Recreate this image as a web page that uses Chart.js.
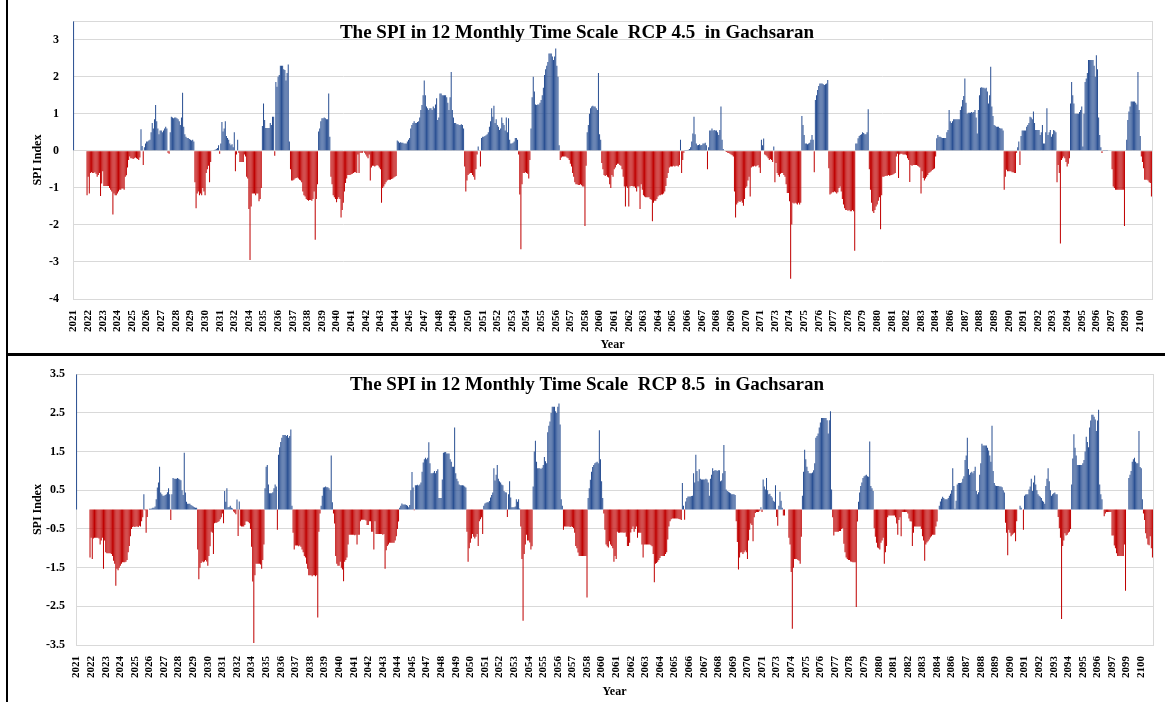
<!DOCTYPE html>
<html lang="en">

<head>
    <meta charset="UTF-8">
    <title>SPI 12 monthly - Gachsaran</title>
    <script src="https://cdn.jsdelivr.net/npm/chart.js"></script>
    <style>
        body { margin: 0; background: #fff; }
        #page { position: relative; width: 1165px; height: 702px; overflow: hidden; }
        .panel { position: absolute; left: 0; width: 1165px; }
        #top { top: 0; height: 353px; }
        #bottom { top: 356px; height: 346px; }
        .line { position: absolute; background: #000; }
    </style>
</head>

<body>
    <div id="page">
        <div class="panel" id="top"><canvas id="chart45"></canvas></div>
        <div class="panel" id="bottom"><canvas id="chart85"></canvas></div>
        <div class="line" style="left:6px;top:353px;width:1159px;height:3px"></div>
        <div class="line" style="left:6px;top:0;width:2px;height:702px"></div>
    </div>
    <script>
        // years on the axis, one row of 12 monthly SPI values per year
        const years = [];
        for (let y = 2021; y <= 2100; y++) years.push(y);

        const yTicks45 = [3, 2, 1, 0, -1, -2, -3, -4];
        const yTicks85 = [3.5, 2.5, 1.5, 0.5, -0.5, -1.5, -2.5, -3.5];

        const n = null;
        const rcp45 = [
            [3.5, n, n, n, n, n, n, n, n, n, n, n],
            [-1.2, -0.7, -1.15, -0.6, -0.58, -0.6, -0.6, -0.58, -0.62, -0.7, -0.65, -0.6],
            [-1.22, -0.88, -0.55, -0.95, -0.95, -0.95, -0.95, -0.95, -1.0, -1.05, -1.1, -1.72],
            [-1.15, -1.2, -1.2, -1.15, -1.1, -1.05, -1.05, -1.02, -1.02, -1.05, -0.7, -0.66],
            [-0.45, -0.25, -0.15, -0.2, -0.2, -0.22, -0.2, -0.18, -0.2, -0.22, -0.25, -0.18],
            [0.58, 0.13, -0.38, 0.1, 0.2, 0.25, 0.25, 0.28, 0.3, 0.5, 0.75, 0.6],
            [0.85, 1.24, 0.8, 0.6, 0.45, 0.55, 0.55, 0.5, 0.55, 0.6, 0.65, 0.6],
            [-0.05, -0.08, 0.5, 0.92, 0.9, 0.88, 0.9, 0.9, 0.88, 0.85, 0.8, 0.7],
            [0.9, 1.57, 0.65, 0.45, 0.38, 0.35, 0.35, 0.32, 0.3, 0.28, 0.3, 0.25],
            [-0.85, -1.55, -1.15, -1.1, -1.2, -1.15, -1.2, -1.0, -1.1, -1.2, -0.6, -0.5],
            [-0.4, -0.85, -0.3, 0, 0, 0.02, 0.03, 0.05, 0.08, 0.15, -0.08, 0.2],
            [0.78, 0.52, 0.6, 0.8, 0.4, 0.35, 0.3, 0.2, 0.15, 0.18, 0.1, 0.5],
            [-0.55, -0.1, 0.3, -0.05, -0.3, -0.3, -0.3, -0.3, -0.1, -0.15, -0.7, -0.75],
            [-1.57, -2.95, -1.5, -1.15, -1.15, -1.15, -1.2, -1.15, -1.15, -1.36, -1.3, -1.0],
            [0.67, 1.28, 0.83, 0.62, 0.62, 0.62, 0.62, 0.75, 0.7, 0.92, 0.92, -0.13],
            [1.86, 1.73, 2.0, 2.05, 2.3, 2.3, 2.3, 2.2, 2.18, 1.9, 2.1, 2.33],
            [0.25, -0.5, -0.8, -0.8, -0.78, -0.75, -0.73, -0.72, -0.75, -0.78, -0.8, -0.85],
            [-1.1, -1.2, -1.23, -1.3, -1.33, -1.35, -1.33, -1.33, -1.35, -1.3, -1.1, -2.4],
            [-1.3, -0.9, 0.52, 0.6, 0.8, 0.88, 0.88, 0.9, 0.88, 0.85, 0.85, 1.55],
            [0.38, -0.7, -0.9, -1.2, -1.25, -1.3, -1.39, -1.3, -1.25, -1.3, -1.8, -1.6],
            [-1.4, -1.1, -0.87, -0.75, -0.65, -0.65, -0.65, -0.63, -0.62, -0.6, -0.58, -0.58],
            [-0.6, -0.1, -0.6, -0.05, -0.05, -0.05, -0.02, -0.05, -0.1, -0.15, -0.2, -0.1],
            [-0.8, -0.45, -0.4, -0.4, -0.42, -0.4, -0.38, -0.4, -0.45, -0.5, -1.4, -1.0],
            [-0.96, -0.9, -0.85, -0.8, -0.78, -0.78, -0.78, -0.76, -0.75, -0.72, -0.7, -0.68],
            [0.28, 0.25, 0.22, 0.23, 0.22, 0.22, 0.2, 0.2, 0.2, 0.25, 0.3, 0.35],
            [0.6, 0.7, 0.75, 0.8, 0.75, 0.75, 0.78, 0.8, 0.9, 1.1, 1.24, 1.5],
            [1.9, 1.5, 1.2, 1.15, 1.1, 1.15, 1.15, 1.1, 1.2, 1.15, 1.25, 1.42],
            [0.83, 0.9, 1.55, 1.55, 1.5, 1.5, 1.5, 1.5, 1.45, 1.3, 1.1, 1.45],
            [2.13, 1.1, 0.9, 0.75, 0.75, 0.72, 0.72, 0.7, 0.7, 0.72, 0.7, 0.6],
            [-0.42, -1.1, -0.8, -0.65, -0.62, -0.6, -0.6, -0.65, -0.7, -0.78, -0.5, -0.1],
            [0.12, 0.0, -0.42, 0.35, 0.38, 0.38, 0.4, 0.42, 0.45, 0.5, 0.65, 0.8],
            [1.15, 0.92, 1.22, 0.75, 0.85, 0.7, 0.65, 0.56, 0.6, 0.9, 0.75, 0.7],
            [0.55, 0.9, 0.5, 0.88, 0.3, 0.2, 0.2, 0.22, 0.25, 0.35, 0.35, 0.3],
            [-0.1, -1.18, -2.66, -0.9, -0.6, -0.6, -0.58, -0.6, -0.62, -0.75, -0.25, 0.6],
            [1.45, 2.0, 1.6, 1.25, 1.24, 1.25, 1.25, 1.3, 1.37, 1.5, 1.7, 2.05],
            [2.2, 2.3, 2.4, 2.63, 2.63, 2.63, 2.55, 2.45, 2.55, 2.76, 2.3, 2.0],
            [0.15, -0.25, -0.18, -0.15, -0.15, -0.15, -0.15, -0.18, -0.2, -0.25, -0.35, -0.42],
            [-0.6, -0.7, -0.85, -0.9, -0.9, -0.92, -0.92, -0.9, -0.93, -0.96, -0.96, -2.03],
            [-0.4, 0.5, 0.7, 1.0, 1.15, 1.2, 1.22, 1.2, 1.2, 1.15, 1.1, 2.1],
            [0.45, 0.3, -0.33, -0.5, -0.65, -0.68, -0.65, -0.7, -0.72, -0.9, -1.0, -0.65],
            [-0.7, -0.5, -0.45, -0.38, -0.35, -0.35, -0.38, -0.4, -0.5, -0.7, -0.96, -1.5],
            [-0.96, -1.0, -1.5, -0.96, -0.95, -0.95, -0.96, -0.96, -1.0, -1.1, -0.96, -0.96],
            [-1.57, -0.9, -1.05, -1.2, -1.23, -1.25, -1.25, -1.25, -1.25, -1.3, -1.32, -1.9],
            [-1.4, -1.35, -1.35, -1.3, -1.23, -1.2, -1.2, -1.18, -1.18, -1.15, -1.1, -0.95],
            [-0.73, -0.6, -0.45, -0.42, -0.42, -0.42, -0.4, -0.42, -0.4, -0.4, -0.42, -0.38],
            [0.3, -0.6, -0.25, -0.05, 0.02, 0.02, 0.02, 0.03, 0.05, 0.1, 0.25, 0.47],
            [0.92, 0.45, 0.2, 0.15, 0.16, 0.18, 0.15, 0.16, 0.2, 0.2, 0.22, 0.15],
            [-0.5, 0.1, 0.55, 0.55, 0.6, 0.55, 0.56, 0.55, 0.55, 0.5, 0.43, 0.56],
            [1.2, 0.3, 0.05, 0.0, -0.02, -0.03, -0.05, -0.06, -0.08, -0.1, -0.12, -0.15],
            [-1.1, -1.8, -1.45, -1.4, -1.36, -1.38, -1.35, -1.4, -1.48, -1.3, -1.0, -0.96],
            [-0.8, -0.7, -1.23, -0.45, -0.42, -0.42, -0.4, -0.42, -0.4, -0.38, -0.45, -0.6],
            [0.3, 0.15, 0.33, -0.1, -0.12, -0.15, -0.2, -0.25, -0.22, -0.25, -0.3, 0.12],
            [-0.85, -0.33, -0.6, -0.65, -0.7, -0.62, -0.6, -0.6, -0.65, -0.7, -0.9, -1.14],
            [-1.14, -1.36, -3.45, -1.99, -1.4, -1.42, -1.4, -1.42, -1.45, -1.4, -1.45, -1.4],
            [0.94, 0.7, 0.43, 0.2, 0.2, 0.18, 0.2, 0.22, 0.3, 0.43, 0.3, -0.58],
            [1.37, 1.5, 1.64, 1.75, 1.82, 1.82, 1.82, 1.8, 1.78, 1.8, 1.82, 1.91],
            [-0.47, -1.18, -1.15, -1.12, -1.12, -1.1, -1.12, -1.15, -1.12, -1.0, -0.96, -1.1],
            [-1.3, -1.45, -1.55, -1.6, -1.6, -1.62, -1.6, -1.63, -1.63, -1.6, -1.63, -2.7],
            [0.2, 0.2, 0.34, 0.4, 0.43, 0.45, 0.5, 0.48, 0.45, 0.45, 0.5, 1.12],
            [-0.5, -1.05, -1.4, -1.63, -1.68, -1.6, -1.5, -1.45, -1.35, -1.25, -2.12, -1.2],
            [-0.7, -0.7, -0.68, -0.67, -0.67, -0.65, -0.67, -0.66, -0.65, -0.64, -0.62, -0.6],
            [-0.15, -0.08, -0.73, -0.1, -0.08, -0.08, -0.1, -0.1, -0.1, -0.12, -0.2, -0.25],
            [-0.84, -0.38, -0.4, -0.38, -0.38, -0.38, -0.38, -0.4, -0.42, -0.45, -1.15, -0.55],
            [-0.73, -0.8, -0.75, -0.7, -0.65, -0.6, -0.58, -0.55, -0.52, -0.5, -0.48, -0.15],
            [0.34, 0.43, 0.38, 0.38, 0.36, 0.35, 0.35, 0.35, 0.35, 0.5, 0.56, 1.1],
            [0.8, 0.75, 0.8, 0.85, 0.85, 0.85, 0.85, 0.85, 0.85, 1.1, 1.2, 1.37],
            [1.48, 1.95, 1.3, 1.0, 1.03, 1.03, 1.03, 1.05, 1.03, 1.05, 1.1, 0.9],
            [0.47, 1.1, 1.5, 1.7, 1.72, 1.7, 1.7, 1.68, 1.7, 1.6, 1.28, 1.5],
            [2.27, 1.2, 0.94, 0.7, 0.68, 0.65, 0.65, 0.65, 0.62, 0.6, 0.6, 0.55],
            [-1.05, -0.7, -0.51, -0.55, -0.55, -0.55, -0.55, -0.58, -0.58, -0.6, -0.6, -0.05],
            [0.1, 0.25, -0.38, 0.4, 0.55, 0.55, 0.55, 0.55, 0.65, 0.7, 0.75, 0.92],
            [0.9, 0.85, 1.06, 0.75, 0.56, 0.56, 0.56, 0.56, 0.43, 0.5, 0.7, 0.2],
            [0.2, 0.5, 1.15, 0.43, 0.5, 0.56, 0.38, 0.45, 0.56, 0.54, 0.5, -0.85],
            [-0.38, -0.6, -2.5, -0.25, -0.2, -0.15, -0.2, -0.3, -0.42, -0.35, -0.2, 1.28],
            [1.86, 1.5, 1.28, 1.0, 1.0, 1.0, 1.0, 1.05, 1.1, 1.2, 0.12, 1.0],
            [1.86, 1.95, 2.1, 2.45, 2.45, 2.45, 2.45, 2.45, 2.3, 2.0, 2.58, 2.2],
            [0.9, 0.43, 0.1, -0.06, 0.02, 0.02, 0.02, 0.02, 0.01, 0, 0, 0],
            [-0.5, -0.96, -1.0, -1.05, -1.05, -1.05, -1.05, -1.05, -1.05, -1.05, -1.05, -2.03],
            [0, 0.3, 0.83, 1.06, 1.2, 1.33, 1.33, 1.33, 1.33, 1.3, 1.25, 2.13],
            [1.1, 0.4, -0.15, -0.3, -0.47, -0.78, -0.78, -0.78, -0.8, -0.85, -0.87, -1.23]
        ];

        const rcp85 = [
            [3.5, n, n, n, n, n, n, n, n, n, n, n],
            [-1.24, -0.73, -1.28, -0.75, -0.73, -0.73, -0.73, -0.73, -0.75, -0.9, -0.8, -0.73],
            [-1.53, -0.8, -1.1, -1.13, -1.13, -1.13, -1.13, -1.15, -1.2, -1.32, -1.4, -1.97],
            [-1.53, -1.57, -1.5, -1.45, -1.4, -1.36, -1.36, -1.36, -1.35, -1.3, -1.1, -0.94],
            [-0.69, -0.5, -0.45, -0.44, -0.45, -0.44, -0.44, -0.45, -0.42, -0.44, -0.3, -0.2],
            [0.4, -0.02, -0.6, -0.19, 0.0, 0.02, 0.02, 0.03, 0.05, 0.05, 0.08, 0.27],
            [0.57, 0.7, 1.11, 0.44, 0.4, 0.36, 0.36, 0.38, 0.4, 0.45, 0.55, 0.4],
            [-0.27, 0.4, 0.82, 0.8, 0.8, 0.8, 0.82, 0.8, 0.78, 0.76, 0.5, 0.38],
            [1.47, 0.44, 0.2, 0.15, 0.15, 0.15, 0.12, 0.1, 0.08, 0.06, 0.05, 0.05],
            [-1.03, -1.8, -1.5, -1.38, -1.34, -1.36, -1.34, -1.3, -1.34, -1.45, -1.2, -0.95],
            [-0.57, -0.6, -1.15, -0.35, -0.34, -0.34, -0.32, -0.3, -0.25, -0.2, -0.1, -0.35],
            [0.48, 0.2, 0.55, 0.06, 0.07, 0.1, 0.05, 0.03, -0.05, -0.08, -0.12, 0.26],
            [-0.68, 0.21, -0.42, -0.44, -0.44, -0.44, -0.4, -0.31, -0.3, -0.32, -0.35, -0.5],
            [-0.96, -1.86, -3.45, -1.7, -1.4, -1.4, -1.4, -1.4, -1.42, -1.53, -1.3, -0.9],
            [0.55, 1.11, 1.15, 0.65, 0.42, 0.42, 0.42, 0.45, 0.55, 0.65, 0.6, -0.52],
            [1.42, 1.61, 1.75, 1.86, 1.93, 1.93, 1.93, 1.9, 1.93, 1.86, 1.9, 2.07],
            [0.1, -0.6, -1.03, -0.93, -0.93, -0.93, -0.95, -0.93, -0.96, -1.03, -1.1, -1.2],
            [-1.24, -1.4, -1.53, -1.7, -1.7, -1.7, -1.72, -1.7, -1.7, -1.72, -1.7, -2.79],
            [-0.57, -0.1, 0.1, 0.36, 0.57, 0.58, 0.6, 0.58, 0.58, 0.55, 0.5, 1.4],
            [0.19, -0.1, -0.36, -1.2, -1.4, -1.45, -1.45, -1.35, -1.5, -1.55, -1.85, -1.35],
            [-1.3, -1.24, -0.9, -0.65, -0.65, -0.65, -0.65, -0.65, -0.66, -0.65, -0.9, -0.65],
            [-0.65, -0.3, -0.26, -0.26, -0.26, -0.26, -0.28, -0.4, -0.4, -0.3, -0.3, -0.57],
            [-0.57, -1.03, -0.3, -0.63, -0.63, -0.63, -0.63, -0.63, -0.63, -0.65, -0.63, -1.53],
            [-1.05, -0.94, -0.9, -0.86, -0.86, -0.86, -0.86, -0.86, -0.8, -0.69, -0.5, -0.31],
            [0.05, 0.1, 0.16, 0.13, 0.13, 0.13, 0.12, 0.1, 0.06, 0.12, 0.5, 0.97],
            [0.57, -0.02, 0.63, 0.63, 0.64, 0.62, 0.65, 0.7, 0.98, 1.22, 1.3, 1.34],
            [1.3, 1.34, 1.74, 1.2, 0.94, 0.94, 0.95, 1.0, 0.94, 1.0, 1.04, 0.3],
            [0.3, 0.3, 0.78, 1.47, 1.48, 1.49, 1.45, 1.45, 1.45, 1.3, 1.24, 1.11],
            [1.11, 2.12, 0.94, 0.8, 0.73, 0.65, 0.63, 0.63, 0.63, 0.62, 0.6, 0.57],
            [-0.57, -1.35, -1.0, -0.86, -0.75, -0.63, -0.7, -0.75, -0.7, -0.63, -0.94, -0.3],
            [-0.25, -0.2, -0.63, 0.1, 0.16, 0.18, 0.19, 0.19, 0.22, 0.31, 0.38, 0.44],
            [1.07, 0.75, 0.9, 1.15, 0.8, 0.73, 0.7, 0.65, 0.63, 0.48, 0.45, 0.44],
            [-0.19, 0.4, 0.73, 0.31, 0.06, 0.06, 0.06, 0.08, 0.27, 0.2, 0.27, 0.03],
            [-0.44, -1.28, -2.87, -1.15, -0.9, -0.65, -0.8, -0.8, -0.85, -1.03, -0.95, 0.6],
            [1.5, 1.78, 1.24, 1.07, 1.07, 1.07, 1.05, 1.08, 1.15, 1.36, 1.25, 1.2],
            [2.0, 2.17, 2.28, 2.5, 2.66, 2.66, 2.66, 2.54, 2.5, 2.66, 2.74, 2.2],
            [0.27, 0.1, -0.52, -0.44, -0.44, -0.44, -0.44, -0.44, -0.45, -0.44, -0.45, -0.48],
            [-0.6, -0.94, -1.0, -1.11, -1.2, -1.2, -1.2, -1.2, -1.2, -1.2, -1.2, -2.27],
            [0.3, 0.55, 0.77, 0.98, 1.1, 1.15, 1.2, 1.22, 1.24, 1.2, 2.05, 1.3],
            [0.73, 0.3, -0.1, -0.52, -0.9, -0.95, -0.98, -0.82, -0.9, -0.94, -1.0, -1.35],
            [-1.2, -1.28, -0.57, -0.6, -0.6, -0.59, -0.59, -0.59, -0.6, -0.59, -0.7, -0.94],
            [-0.94, -0.86, -0.59, -0.5, -0.44, -0.57, -0.5, -0.44, -0.73, -0.6, -0.6, -0.6],
            [-0.9, -1.24, -0.9, -0.9, -0.9, -0.9, -0.9, -0.9, -0.92, -0.95, -1.15, -1.88],
            [-1.4, -1.38, -1.35, -1.3, -1.25, -1.2, -1.2, -1.2, -1.2, -1.15, -1.1, -0.77],
            [-0.44, -0.3, -0.25, -0.23, -0.23, -0.23, -0.23, -0.23, -0.23, -0.24, -0.25, -0.27],
            [0.69, 0.1, -0.26, 0.21, 0.3, 0.34, 0.34, 0.34, 0.35, 0.36, 0.94, 0.7],
            [1.42, 1.0, 0.73, 1.04, 0.8, 0.78, 0.78, 0.78, 0.78, 0.8, 0.78, 0.7],
            [0.36, 0.8, 0.9, 1.07, 1.0, 1.02, 1.02, 1.0, 1.02, 1.02, 0.73, 0.75],
            [0.94, 1.67, 1.0, 0.52, 0.48, 0.46, 0.44, 0.42, 0.4, 0.4, 0.4, 0.38],
            [-0.3, -0.84, -1.55, -1.24, -1.11, -1.1, -1.15, -1.1, -1.06, -1.1, -1.28, -0.8],
            [-0.52, -0.36, -0.4, -0.82, -0.2, -0.09, -0.06, -0.06, -0.06, -0.03, 0.06, -0.06],
            [0.78, 0.6, 0.52, 0.82, 0.5, 0.4, 0.41, 0.35, 0.31, 0.23, 0.2, 0.63],
            [-0.19, -0.42, 0.1, 0.46, 0.23, 0.05, -0.15, -0.15, 0, 0, 0, -0.73],
            [-0.9, -1.61, -3.08, -1.5, -1.28, -1.28, -1.28, -1.3, -1.32, -1.4, -0.7, 0.36],
            [0.98, 1.55, 1.3, 1.11, 1.0, 0.94, 0.94, 0.94, 0.96, 1.02, 1.2, 1.86],
            [1.9, 1.97, 2.12, 2.25, 2.37, 2.37, 2.37, 2.37, 2.37, 2.31, 1.97, 2.31],
            [2.54, 0.52, -0.2, -0.67, -0.57, -0.57, -0.57, -0.57, -0.55, -0.55, -0.5, -0.48],
            [-0.88, -1.1, -1.24, -1.28, -1.3, -1.3, -1.34, -1.35, -1.36, -1.36, -1.36, -2.52],
            [-0.31, 0.2, 0.44, 0.61, 0.7, 0.82, 0.86, 0.88, 0.9, 0.86, 0.85, 1.76],
            [0.61, 0.55, 0.48, -0.48, -0.7, -0.86, -0.98, -1.0, -1.03, -0.86, -0.8, -0.73],
            [-1.4, -1.1, -0.94, -0.2, -0.15, -0.15, -0.15, -0.15, -0.15, -0.15, -0.2, -0.36],
            [-0.65, -0.27, -0.2, -0.69, -0.06, -0.06, -0.06, -0.06, -0.06, -0.1, -0.23, -0.3],
            [-0.31, -0.94, -0.6, -0.44, -0.44, -0.44, -0.44, -0.44, -0.44, -0.5, -0.69, -0.8],
            [-1.32, -0.9, -0.85, -0.82, -0.77, -0.72, -0.69, -0.65, -0.65, -0.65, -0.44, -0.31],
            [0.0, 0.1, 0.21, 0.28, 0.33, 0.3, 0.27, 0.27, 0.27, 0.3, 0.36, 0.41],
            [0.5, 1.07, 0.61, 0.02, 0.23, 0.65, 0.69, 0.69, 0.69, 0.7, 0.8, 0.86],
            [1.28, 1.4, 1.86, 1.05, 0.9, 0.95, 0.98, 0.94, 1.0, 1.11, 0.48, 0.4],
            [0.45, 0.9, 1.2, 1.7, 1.66, 1.66, 1.66, 1.66, 1.6, 1.53, 1.4, 1.24],
            [2.17, 1.0, 0.69, 0.62, 0.61, 0.61, 0.61, 0.6, 0.6, 0.58, 0.5, 0.44],
            [-0.34, -0.6, -1.18, -0.52, -0.6, -0.69, -0.65, -0.62, -0.6, -0.82, -0.3, 0.0],
            [0.0, 0.1, 0.05, 0.0, -0.52, 0.36, 0.39, 0.4, 0.4, 0.52, 0.6, 0.8],
            [0.48, 0.7, 0.88, 0.65, 0.5, 0.4, 0.36, 0.33, 0.3, 0.23, 0.2, 0.15],
            [0.61, 0.8, 1.07, 0.73, 0.5, 0.36, 0.4, 0.42, 0.44, 0.4, 0.4, -0.19],
            [-0.48, -0.73, -2.83, -0.94, -0.8, -0.61, -0.67, -0.65, -0.6, -0.57, -0.5, 0.65],
            [1.32, 1.95, 1.6, 1.4, 1.15, 1.15, 1.15, 1.15, 1.15, 1.2, 1.28, 1.5],
            [1.88, 1.75, 1.61, 2.12, 2.3, 2.45, 2.45, 2.4, 2.33, 2.03, 2.3, 2.58],
            [0.65, 0.4, 0.27, 0.0, -0.17, -0.1, -0.06, -0.06, -0.06, -0.06, -0.06, -0.67],
            [-0.67, -0.93, -1.0, -1.13, -1.2, -1.2, -1.2, -1.2, -1.2, -1.2, -0.9, -2.1],
            [0.0, 0.0, 0.82, 0.9, 1.0, 1.24, 1.3, 1.34, 1.24, 1.2, 1.2, 2.03],
            [1.1, 1.07, 0.27, -0.1, -0.27, -0.61, -0.75, -0.9, -0.92, -0.69, -1.0, -1.24]
        ];

        const blue = '#2a5093';
        const red = '#bf0000';
        const gridGrey = '#d9d9d9';
        const serif = "'Liberation Serif', 'Times New Roman', serif";

        // light frame round the plot area
        const frame = {
            id: 'frame',
            beforeDatasetsDraw(chart) {
                const a = chart.chartArea;
                const ctx = chart.ctx;
                ctx.save();
                ctx.strokeStyle = gridGrey;
                ctx.lineWidth = 1;
                ctx.strokeRect(Math.round(a.left) + 0.5, Math.round(a.top) + 0.5, Math.round(a.width), Math.round(a.height));
                ctx.restore();
            }
        };

        // title sits inside the plot, like the excel original
        function heading(text, x, y) {
            return {
                id: 'heading',
                afterDatasetsDraw(chart) {
                    const ctx = chart.ctx;
                    ctx.save();
                    ctx.font = "bold 19px " + serif;
                    ctx.fillStyle = '#000';
                    ctx.textAlign = 'center';
                    ctx.textBaseline = 'middle';
                    ctx.fillText(text, x, y);
                    ctx.restore();
                }
            };
        }

        function drawSpi(id, rows, o) {
            const labels = [];
            years.forEach(y => {
                for (let m = 0; m < 12; m++) labels.push(String(y));
            });
            const values = rows.flat();

            return new Chart(document.getElementById(id), {
                type: 'bar',
                data: {
                    labels: labels,
                    datasets: [{
                        data: values,
                        backgroundColor: c => (c.raw >= 0 ? blue : red),
                        barPercentage: 1,
                        categoryPercentage: 0.9
                    }]
                },
                options: {
                    responsive: true,
                    maintainAspectRatio: false,
                    animation: false,
                    layout: { padding: o.pad },
                    plugins: {
                        legend: { display: false },
                        tooltip: { enabled: false }
                    },
                    scales: {
                        x: {
                            grid: { display: false },
                            border: { display: false },
                            ticks: {
                                autoSkip: false,
                                minRotation: 90,
                                maxRotation: 90,
                                padding: 3,
                                color: '#000',
                                font: { family: serif, weight: 'bold', size: 11 }
                            },
                            title: {
                                display: true,
                                text: 'Year',
                                color: '#000',
                                font: { family: serif, weight: 'bold', size: 12 },
                                padding: { top: 0, bottom: o.yearPad }
                            },
                            // excel printed one year label every 13 months
                            afterBuildTicks: s => { s.ticks = s.ticks.filter((t, i) => i % 13 === 0); },
                            afterFit: s => { s.height = o.xHeight; }
                        },
                        y: {
                            min: o.min,
                            max: o.max,
                            afterBuildTicks: s => { s.ticks = o.ticks.map(v => ({ value: v })); },
                            afterFit: s => { s.width = o.yWidth; },
                            grid: { color: gridGrey, drawTicks: false },
                            border: { color: gridGrey },
                            ticks: {
                                padding: o.tickPad,
                                color: '#000',
                                font: { family: serif, weight: 'bold', size: 12 }
                            },
                            title: {
                                display: true,
                                text: 'SPI Index',
                                color: '#000',
                                font: { family: serif, weight: 'bold', size: 12 },
                                padding: { top: 23, bottom: 0 }
                            }
                        }
                    }
                },
                plugins: [frame, heading(o.title, o.tx, o.ty)]
            });
        }

        drawSpi('chart45', rcp45, {
            min: -4, max: 3.5, ticks: yTicks45,
            pad: { top: 21, right: 13, bottom: 0, left: 8 },
            yWidth: 65, xHeight: 54, tickPad: 14, yearPad: 1,
            title: 'The SPI in 12 Monthly Time Scale  RCP 4.5  in Gachsaran', tx: 577, ty: 33
        });

        drawSpi('chart85', rcp85, {
            min: -3.5, max: 3.5, ticks: yTicks85,
            pad: { top: 11, right: 12, bottom: 0, left: 8 },
            yWidth: 68, xHeight: 57, tickPad: 11, yearPad: 3,
            title: 'The SPI in 12 Monthly Time Scale  RCP 8.5  in Gachsaran', tx: 587, ty: 29
        });
    </script>
</body>

</html>
